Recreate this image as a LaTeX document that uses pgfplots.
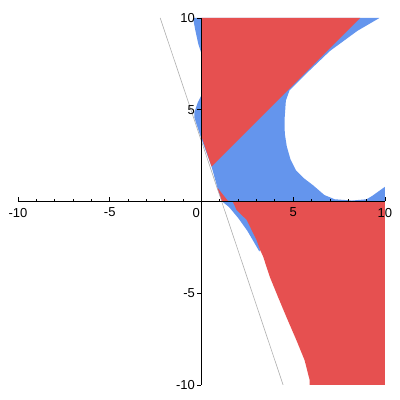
\documentclass[border=0pt]{standalone}
\usepackage{fontspec}
\setmainfont{Liberation Sans}
\usepackage{pgfplots}
\pgfplotsset{compat=1.18}
\definecolor{myred}{RGB}{230,80,80}
\definecolor{myblue}{RGB}{100,149,237}
\definecolor{mygrey}{RGB}{175,175,175}
\begin{document}
\begin{tikzpicture}
\begin{axis}[
 scale only axis, width=367pt, height=367pt,
 xmin=-10, xmax=10, ymin=-10, ymax=10,
 axis lines=middle, axis line style={-, line width=0.8pt},
 axis on top,
 xtick={-10,-5,0,5,10}, ytick={-10,-5,5,10},
 xticklabels={-10,-5,\makebox[0pt][r]{0\hspace{1.5pt}},5,10},
 yticklabels={-10,-5,5,10},
 minor tick num=4,
 hide obscured x ticks=false,
 tick align=inside, major tick length=4pt, minor tick length=2.5pt,
 major y tick style={xshift=-4pt}, minor y tick style={xshift=-2.5pt},
 tick style={black, line width=0.8pt},
 xticklabel style={anchor=north, yshift=-3pt, font=\fontsize{13}{15}\selectfont},
 yticklabel style={anchor=east, xshift=-3pt, font=\fontsize{13}{15}\selectfont},
 /pgf/number format/assume math mode=true,
]
\coordinate (ll) at (axis cs:-10.98,-10.82);
\coordinate (ur) at (axis cs:10.82,10.98);
\addplot[mygrey, line width=0.6pt] coordinates {(-2.25,10) (4.45,-10)};
% upper blue
\addplot[fill=myblue, draw=none] coordinates {
(-0.46,10) (9.7,10) (8.5,9.3) (7.0,8.2) (5.9,7.15) (4.8,6.06) (4.6,5.5) (4.53,4.5) (4.54,3.7) (4.65,3.0) (4.85,2.3) (5.15,1.7) (5.6,1.25) (6.06,0.9) (6.7,0.35) (7.26,0.12) (8.2,0.05) (9.0,0.12) (9.3,0.3) (10,0.8) (10,0) (1.12,0) (0.87,0.75) (0.55,1.9) (0,3.4) (-0.38,4.55) (-0.39,4.85) (-0.2,5.4) (0,5.79) (0,8.07) (-0.17,8.57) (-0.35,9.4)} -- cycle;
% upper red
\addplot[fill=myred, draw=none] coordinates {(0,10) (8.65,10) (0.55,1.9) (0,3.55)} -- cycle;
% red sliver
\addplot[fill=myred, draw=none] coordinates {(0.87,0.75) (1.45,0.02) (1.12,0.02)} -- cycle;
% lower blue strip
\addplot[fill=myblue, draw=none] coordinates {(1.12,0) (2.5,0) (3.2,-2.65) (3.15,-2.72) (2.85,-2.2) (2.5,-1.6) (2.0,-0.9) (1.5,-0.3)} -- cycle;
% lower red
\addplot[fill=myred, draw=none] coordinates {(1.7,0) (10,0) (10,-10) (5.9,-10) (5.9,-9.75) (5.62,-8.65) (5.17,-7.55) (4.63,-6.3) (4.17,-5.2) (3.72,-4.1) (3.36,-3.0) (3.2,-2.65) (3.0,-2.1) (2.46,-1.0) (1.91,-0.46)} -- cycle;
\end{axis}
\pgfresetboundingbox
\path[use as bounding box] (ll) rectangle (ur);
\end{tikzpicture}
\end{document}
